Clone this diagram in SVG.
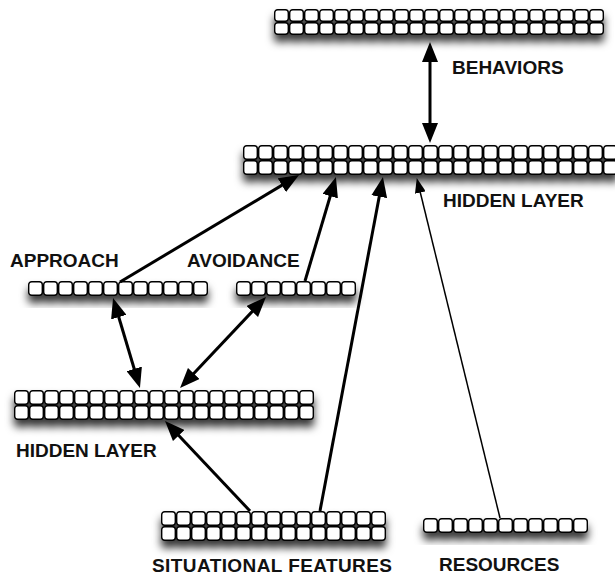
<svg xmlns="http://www.w3.org/2000/svg" xmlns:xlink="http://www.w3.org/1999/xlink" width="615" height="575" viewBox="0 0 615 575">
<style>
text{font-family:"Liberation Sans",Arial,sans-serif;font-weight:bold;font-size:19px;fill:#111}
.bank{filter:url(#sh)}
.thick{stroke:#000;stroke-width:3;fill:none}
.thin{stroke:#000;stroke-width:1.5;fill:none}
</style>
<defs>
<filter id="sh" x="-10%" y="-40%" width="120%" height="220%">
<feDropShadow dx="0" dy="7" stdDeviation="4" flood-color="#000" flood-opacity="0.8"/>
</filter>
<pattern id="c15" width="15" height="15" patternUnits="userSpaceOnUse">
<rect x="0.7" y="0.7" width="13.6" height="13.6" rx="3" fill="#fff" stroke="#000" stroke-width="1.4"/>
</pattern>
<pattern id="c13" width="15" height="13" patternUnits="userSpaceOnUse">
<rect x="0.7" y="0.7" width="13.6" height="11.6" rx="3" fill="#fff" stroke="#000" stroke-width="1.4"/>
</pattern>
<marker id="ah" markerUnits="userSpaceOnUse" markerWidth="20" markerHeight="16" refX="9" refY="8" orient="auto-start-reverse">
<path d="M0,0 L20,8 L0,16 Z" fill="#000"/>
</marker>
<marker id="ahs" markerUnits="userSpaceOnUse" markerWidth="15" markerHeight="11" refX="6" refY="5.5" orient="auto-start-reverse">
<path d="M0,0 L15,5.5 L0,11 Z" fill="#000"/>
</marker>
</defs>
<rect width="615" height="575" fill="#fff"/>

<g id="behaviors" transform="translate(274,9)">
<rect class="bank" width="330" height="26" fill="url(#c13)"/>
<text x="178" y="65">BEHAVIORS</text>
</g>

<g id="hidden-top" transform="translate(243,145)">
<rect class="bank" width="375" height="30" fill="url(#c15)"/>
<text x="200" y="62">HIDDEN LAYER</text>
</g>

<g id="approach" transform="translate(28,281)">
<rect class="bank" width="180" height="15" fill="url(#c15)"/>
<text x="-18" y="-14">APPROACH</text>
</g>

<g id="avoidance" transform="translate(236,281)">
<rect class="bank" width="120" height="15" fill="url(#c15)"/>
<text x="-49" y="-14">AVOIDANCE</text>
</g>

<g id="hidden-lower" transform="translate(14,390)">
<rect class="bank" width="300" height="30" fill="url(#c15)"/>
<text x="2" y="67">HIDDEN LAYER</text>
</g>

<g id="situational" transform="translate(161,511)">
<rect class="bank" width="225" height="30" fill="url(#c15)"/>
<text x="-9" y="61" textLength="240">SITUATIONAL FEATURES</text>
</g>

<g id="resources" transform="translate(423,518)">
<rect class="bank" width="165" height="15" fill="url(#c15)"/>
<text x="16" y="53">RESOURCES</text>
</g>

<g id="connectors">
<line class="thick" x1="430" y1="53" x2="430" y2="132" marker-start="url(#ah)" marker-end="url(#ah)"/>
<line class="thick" x1="120" y1="282" x2="289.6" y2="180.6" marker-end="url(#ah)"/>
<line class="thick" x1="305" y1="281" x2="332.8" y2="187.5" marker-end="url(#ah)"/>
<line class="thick" x1="320" y1="511" x2="380.9" y2="187.8" marker-end="url(#ah)"/>
<line class="thin" x1="500" y1="518" x2="418.9" y2="186.7" marker-end="url(#ahs)"/>
<line class="thick" x1="116.2" y1="308.5" x2="136.8" y2="377.5" marker-start="url(#ah)" marker-end="url(#ah)"/>
<line class="thick" x1="258.4" y1="305" x2="187.6" y2="380" marker-start="url(#ah)" marker-end="url(#ah)"/>
<line class="thick" x1="250" y1="511" x2="172.6" y2="429" marker-end="url(#ah)"/>
</g>
</svg>
